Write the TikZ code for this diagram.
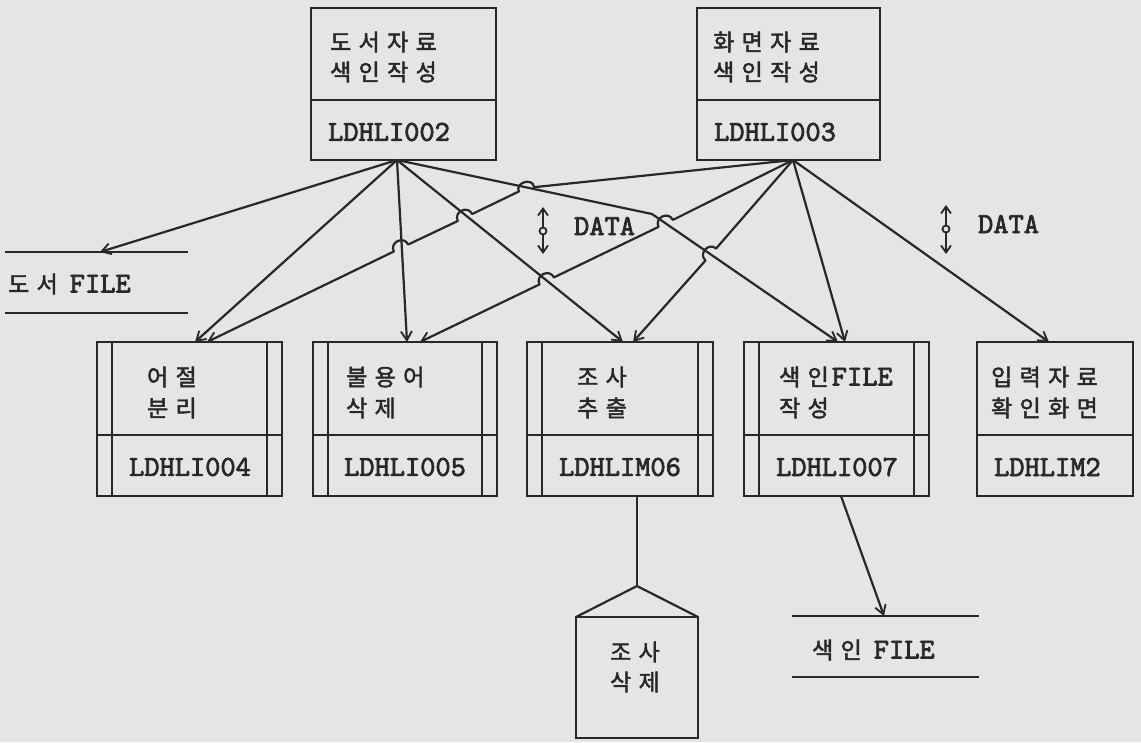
\documentclass[tikz,border=0pt]{standalone}
\usepackage{fontspec}
\usepackage{graphicx}
\usetikzlibrary{arrows.meta,calc}
\newfontfamily\kr{Noto Sans CJK KR}[LetterSpace=32,FakeBold=2]
\newfontfamily\mono{lmmono10-regular.otf}[FakeBold=2.5]
\definecolor{paper}{RGB}{229,229,229}
\definecolor{ink}{RGB}{40,40,40}
\newcommand\hg[1]{{\fontsize{23}{26}\kr #1}}
\newcommand\lt[1]{{\fontsize{29}{32}\mono #1}}
\begin{document}
\begin{tikzpicture}[x=1pt,y=-1pt,line width=2.2pt,
  box/.style={draw=ink,rectangle,inner sep=0pt,outer sep=0pt},
  store/.style={rectangle,inner sep=0pt,outer sep=0pt},
  lbl/.style={anchor=west,inner sep=0pt,text=ink},
  conn/.style={draw=ink,line join=round,-{Straight Barb[length=9pt,width=11pt,line width=1.8pt]}},
  plain/.style={draw=ink,line join=round},
  dsym/.style={draw=ink,line width=1.8pt,{Straight Barb[length=7pt,width=10pt,line width=1.8pt]}-{Straight Barb[length=7pt,width=10pt,line width=1.8pt]}}]
\fill[paper] (0,0) rectangle (1141,742);
\useasboundingbox (0,0) rectangle (1141,742);

% top boxes
\node[box,minimum width=185,minimum height=152] (t1) at (403.5,84) {};
\node[box,minimum width=183,minimum height=152] (t2) at (788.5,84) {};
\draw[plain] ($(t1.north west)+(0,92)$) -- ($(t1.north east)+(0,92)$);
\draw[plain] ($(t2.north west)+(0,92)$) -- ($(t2.north east)+(0,92)$);
\node[lbl] (t1a1) at (329,42) {\hg{도서자료}};
\node[lbl] (t1a2) at (329,72) {\hg{색인작성}};
\node[lbl] (t1b) at (327,132) {\lt{LDHLI002}};
\node[lbl] (t2a1) at (712,42) {\hg{화면자료}};
\node[lbl] (t2a2) at (712,72) {\hg{색인작성}};
\node[lbl] (t2b) at (713,132) {\lt{LDHLI003}};

% bottom boxes
\node[box,minimum width=185,minimum height=154] (bA) at (189.5,419) {};
\node[box,minimum width=184,minimum height=154] (bB) at (405,419) {};
\node[box,minimum width=186,minimum height=154] (bC) at (620,419) {};
\node[box,minimum width=185,minimum height=154] (bD) at (836.5,419) {};
\node[box,minimum width=156,minimum height=154] (bE) at (1055,419) {};
\foreach \b in {bA,bB,bC,bD,bE}{
  \draw[plain] ($(\b.north west)+(0,93)$) -- ($(\b.north east)+(0,93)$);
}
\foreach \b in {bA,bB,bC,bD}{
  \draw[plain] ($(\b.north west)+(15,0)$) -- ($(\b.south west)+(15,0)$);
  \draw[plain] ($(\b.north east)+(-15,0)$) -- ($(\b.south east)+(-15,0)$);
}
\node[lbl] (bA1) at (146,377) {\hg{어절}};
\node[lbl] (bA2) at (146,408) {\hg{분리}};
\node[lbl] (bA3) at (128,467) {\lt{LDHLI004}};
\node[lbl] (bB1) at (345,377) {\hg{불용어}};
\node[lbl] (bB2) at (345,408) {\hg{삭제}};
\node[lbl] (bB3) at (343,467) {\lt{LDHLI005}};
\node[lbl] (bC1) at (576,377) {\hg{조사}};
\node[lbl] (bC2) at (576,408) {\hg{추출}};
\node[lbl] (bC3) at (558,467) {\lt{LDHLIM06}};
\node[lbl] (bD1) at (778,377) {\hg{색인}\hspace{3pt}\lt{FILE}};
\node[lbl] (bD2) at (778,408) {\hg{작성}};
\node[lbl] (bD3) at (775,467) {\lt{LDHLI007}};
\node[lbl] (bE1) at (990,377) {\hg{입력자료}};
\node[lbl] (bE2) at (990,408) {\hg{확인화면}};
\node[lbl] (bE3) at (993,467) {\lt{LDHLIM2}};

% 조사삭제
\node[box,minimum width=122,minimum height=121] (cs) at (637,677.5) {};
\coordinate (roof) at (637,586);
\draw[plain] (cs.north west) -- (roof) -- (cs.north east);
\draw[plain] (roof |- bC.south) -- (roof);
\node[lbl] (cs1) at (609,652) {\hg{조사}};
\node[lbl] (cs2) at (609,682) {\hg{삭제}};

% data stores
\node[store,minimum width=183,minimum height=61] (f1) at (96.5,282.5) {};
\draw[plain] (f1.north west) -- (f1.north east);
\draw[plain] (f1.south west) -- (f1.south east);
\node[lbl] (f1t) at (7,284) {\hg{도서}\hspace{12pt}\lt{FILE}};
\node[store,minimum width=187,minimum height=61] (f2) at (885.5,646.5) {};
\draw[plain] (f2.north west) -- (f2.north east);
\draw[plain] (f2.south west) -- (f2.south east);
\node[lbl] (f2t) at (811,650) {\hg{색인}\hspace{12pt}\lt{FILE}};

% connector end points
\coordinate (t1o) at (397,160);
\coordinate (t2o) at (793,160);
\coordinate (f1i) at (100,252);
\coordinate (aA1) at (195,342);
\coordinate (aA2) at (207,342);
\coordinate (aB1) at (407,342);
\coordinate (aB2) at (420,342);
\coordinate (aC1) at (623,342);
\coordinate (aC2) at (633,342);
\coordinate (aD1) at (838,342);
\coordinate (aD2) at (845,342);
\coordinate (aE) at (1049,342);
\coordinate (dOut) at (841,496);
\coordinate (f2i) at (884,616);

% from LDHLI002
\draw[conn] (t1o) -- (f1i);
\draw[conn] (t1o) -- (aA1);
\draw[conn] (t1o) -- (aB1);
\draw[conn] (t1o) -- (aC1);
\draw[conn] (t1o) -- (652,214) -- (aD1);

% from LDHLI003 (with hops)
\draw[conn] (t2o) -- (534,187.2) .. controls (533.2,177.2) and (514.8,182.3) .. (518.8,191.5)
  -- (472.2,214) .. controls (467.7,204.8) and (453.3,211.8) .. (457.8,221)
  -- (408.2,244.5) .. controls (403.7,235.3) and (389.3,242.3) .. (393.8,251.5) -- (aA2);
\draw[conn] (t2o) -- (672.9,219.9) .. controls (668.4,210.7) and (654.0,217.7) .. (658.5,226.9)
  -- (553.9,277.4) .. controls (549.4,268.2) and (535.0,275.2) .. (539.5,284.4) -- (aB2);
\draw[conn] (t2o) -- (716.1,248.5) .. controls (708.6,241.8) and (698.0,253.8) .. (705.5,260.5) -- (aC2);
\draw[conn] (t2o) -- (aD2);
\draw[conn] (t2o) -- (aE);

% LDHLI007 to 색인 FILE
\draw[conn] (dOut) -- (f2i);

% DATA symbols
\draw[dsym] (543,207) -- (543,254);
\draw[draw=ink,line width=1.8pt,fill=paper] (543,231) circle (3.5pt);
\node[lbl] (d1) at (573,226) {\lt{DATA}};
\draw[dsym] (946,205) -- (946,254);
\draw[draw=ink,line width=1.8pt,fill=paper] (946,229) circle (3.5pt);
\node[lbl] (d2) at (977,224) {\lt{DATA}};
\end{tikzpicture}
\end{document}
